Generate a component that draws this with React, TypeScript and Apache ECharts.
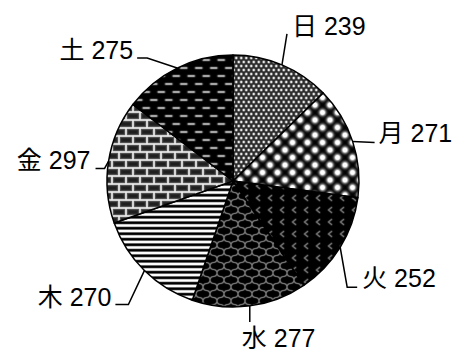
import React, { useEffect, useRef } from 'react';
import * as echarts from 'echarts';

// ---- data ----
const categories = ['日', '月', '火', '水', '木', '金', '土'];
const values = [239, 271, 252, 277, 270, 297, 275];

// ---- label leader layout (relative to the slice edge point) ----
const leaderBend = [[5, -31], [22, 1], [7, 40], [0, 16], [-16, 34], [-4, 7], [-30, -10]];
const leaderTail = [0, 0, 10, 0, -13, -9, -10];
const labelShift = [[5, -8], [4, -9], [5, -9], [-8, 16], [-4, -8], [-5, -8], [-4, -8]];
const labelAlign = ['left', 'left', 'left', 'left', 'right', 'right', 'right'];

const wrap = (d: number, p: number) => d - p * Math.round(d / p);
const clamp = (v: number) => Math.max(0, Math.min(255, v));

function makePattern(w: number, h: number, f: (x: number, y: number) => number) {
  const c = document.createElement('canvas');
  c.width = w;
  c.height = h;
  const ctx = c.getContext('2d')!;
  const img = ctx.createImageData(w, h);
  for (let y = 0; y < h; y++) {
    for (let x = 0; x < w; x++) {
      let s = 0;
      for (let sy = 0; sy < 3; sy++)
        for (let sx = 0; sx < 3; sx++) s += clamp(f(x + (sx + 0.5) / 3, y + (sy + 0.5) / 3));
      const v = Math.round(s / 9);
      const k = (y * w + x) * 4;
      img.data[k] = v;
      img.data[k + 1] = v;
      img.data[k + 2] = v;
      img.data[k + 3] = 255;
    }
  }
  ctx.putImageData(img, 0, 0);
  return { image: c.toDataURL(), repeat: 'repeat', imageWidth: w, imageHeight: h };
}

function blobs(x: number, y: number, w: number, h: number, centers: number[][], sigma: number) {
  let g = 0;
  for (const [cx, cy] of centers) {
    const dx = wrap(x - cx, w);
    const dy = wrap(y - cy, h);
    g = Math.max(g, Math.exp(-(dx * dx + dy * dy) / (2 * sigma * sigma)));
  }
  return g;
}

function segDist(px: number, py: number, ax: number, ay: number, bx: number, by: number) {
  const vx = bx - ax, vy = by - ay;
  let t = ((px - ax) * vx + (py - ay) * vy) / (vx * vx + vy * vy);
  t = Math.max(0, Math.min(1, t));
  const dx = px - (ax + t * vx), dy = py - (ay + t * vy);
  return Math.sqrt(dx * dx + dy * dy);
}

function buildPatterns() {
  const sun = makePattern(5, 8, (x, y) => 35 + 220 * Math.min(1, 1.3 * blobs(x, y, 5, 8, [[1.25, 2], [3.75, 6]], 0.85)));
  const mon = makePattern(15, 15, (x, y) => 255 * Math.min(1, 1.5 * blobs(x, y, 15, 15, [[0, 0], [7.5, 7.5]], 2.2)));
  const fire = makePattern(12, 12, (x, y) => {
    const d = Math.min(segDist(x, y, 7.5, 3.5, 4.5, 6), segDist(x, y, 4.5, 6, 7.5, 8.5));
    return 125 * Math.exp(-(d * d) / (2 * 0.6 * 0.6));
  });
  const water = makePattern(14, 14, (x, y) => {
    const u = x + y, v = x - y, a = 1.5;
    const d1 = Math.abs(wrap(u + a * Math.sin((2 * Math.PI * v) / 14), 14)) / Math.SQRT2;
    const d2 = Math.abs(wrap(v + a * Math.sin((2 * Math.PI * u) / 14), 14)) / Math.SQRT2;
    const d = Math.min(d1, d2);
    return 135 * Math.exp(-(d * d) / (2 * 0.55 * 0.55));
  });
  const wood = makePattern(2, 11, (x, y) => 128 + 200 * Math.cos((2 * Math.PI * y) / 5.5));
  const gold = makePattern(14, 16, (x, y) => {
    const ry = y % 8;
    const dy = Math.min(ry, 8 - ry);
    const row = Math.floor(y / 8) % 2;
    const dx = Math.abs(wrap(x - row * 7, 14));
    const d = Math.min(dx, dy);
    return 25 + 200 * Math.exp(-(d * d) / (2 * 0.7 * 0.7)) + 40 * Math.exp(-(d * d) / (2 * 1.8 * 1.8));
  });
  const earth = makePattern(15, 16, (x, y) => {
    let g = 0;
    for (const [cx, cy] of [[3.75, 4], [11.25, 12]]) {
      const dx = Math.max(0, Math.abs(wrap(x - cx, 15)) - 2.5);
      const dy = Math.abs(wrap(y - cy, 16));
      g = Math.max(g, Math.exp(-(dx * dx) / 2 - (dy * dy) / (2 * 0.75 * 0.75)));
    }
    return 215 * g;
  });
  return [sun, mon, fire, water, wood, gold, earth];
}

export default function App() {
  const ref = useRef<HTMLDivElement>(null);
  useEffect(() => {
    document.body.style.margin = '0';
    const chart = echarts.init(ref.current!, null, { renderer: 'svg' });
    const patterns = buildPatterns();
    const data = categories.map((name, i) => ({
      name,
      value: values[i],
      itemStyle: { color: patterns[i] as any },
    }));
    chart.setOption({
      animation: false,
      backgroundColor: '#ffffff',
      series: [
        {
          type: 'pie',
          center: [233, 181],
          radius: 126,
          startAngle: 90,
          clockwise: true,
          avoidLabelOverlap: false,
          data,
          itemStyle: { borderColor: '#000000', borderWidth: 1.5 },
          emphasis: { disabled: true },
          label: {
            show: true,
            position: 'outside',
            formatter: '{b} {c}',
            color: '#000000',
            fontSize: 25,
            fontFamily: "'Liberation Sans', Arial, 'Noto Sans CJK JP', sans-serif",
          },
          labelLine: {
            show: true,
            length: 20,
            length2: 10,
            lineStyle: { color: '#000000', width: 1.5 },
          },
          labelLayout: (params: any) => {
            const i = params.dataIndex;
            const s = params.labelLinePoints[0];
            const b = [s[0] + leaderBend[i][0], s[1] + leaderBend[i][1]];
            const e = [b[0] + leaderTail[i], b[1]];
            return {
              x: e[0] + labelShift[i][0],
              y: e[1] + labelShift[i][1],
              align: labelAlign[i],
              verticalAlign: 'middle',
              labelLinePoints: [s, b, e],
            };
          },
        },
      ],
    });
    return () => chart.dispose();
  }, []);
  return <div ref={ref} style={{ width: 460, height: 352 }} />;
}
